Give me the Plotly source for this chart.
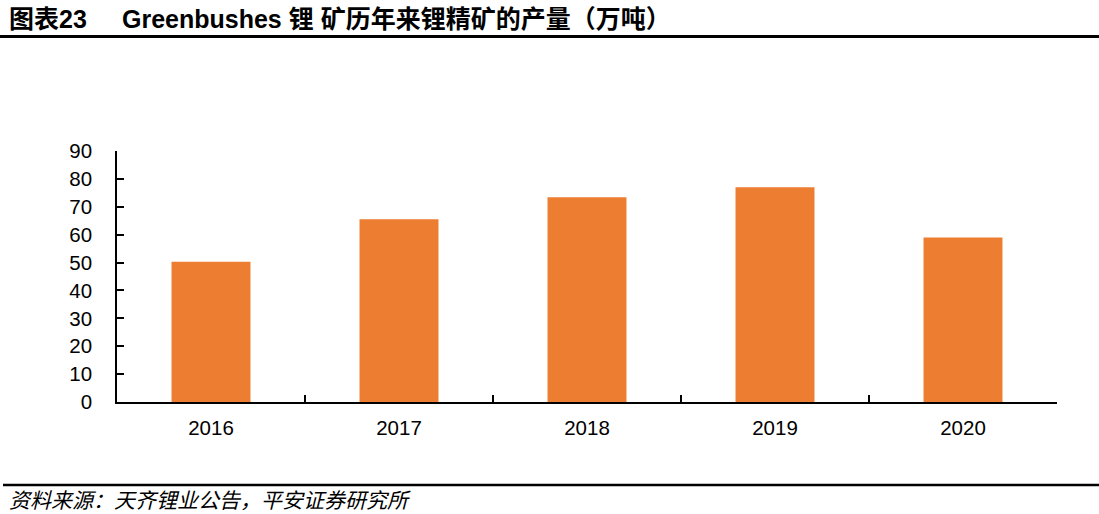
import plotly.graph_objects as go

years = ["2016", "2017", "2018", "2019", "2020"]
output = [50.3, 65.5, 73.4, 77.0, 59.0]
y_ticks = [0, 10, 20, 30, 40, 50, 60, 70, 80, 90]

title_no = "图表23"
title_text = "Greenbushes 锂 矿历年来锂精矿的产量（万吨）"
source_text = "资料来源：天齐锂业公告，平安证券研究所"

W, H = 1099, 514
L, R, T, B = 117, 1057, 151, 402
pw, ph = R - L, B - T

def px(x):
    return (x - L) / pw

def py(y):
    return (B - y) / ph

font_fam = "Liberation Sans, Arial, Noto Sans CJK SC, sans-serif"

fig = go.Figure(go.Bar(
    x=years, y=output,
    marker=dict(color="#ED7D31", line=dict(width=0)),
    hoverinfo="skip",
))

fig.update_layout(
    width=W, height=H,
    margin=dict(l=L, r=W - R, t=T, b=H - B, pad=0),
    paper_bgcolor="white", plot_bgcolor="white",
    bargap=0.58,
    showlegend=False,
    font=dict(family=font_fam, size=20, color="black"),
    xaxis=dict(
        type="category", tickson="boundaries", ticks="inside", ticklen=7,
        tickwidth=1.5, tickcolor="black",
        showline=True, linecolor="black", linewidth=1.5,
        showgrid=False, zeroline=False,
        tickfont=dict(size=20.5, color="black"),
        ticklabelstandoff=7,
    ),
    yaxis=dict(
        range=[0, 90], tickvals=y_ticks, ticks="inside", ticklen=7,
        tickwidth=1.5, tickcolor="black",
        showline=True, linecolor="black", linewidth=1.5,
        showgrid=False, zeroline=False,
        tickfont=dict(size=20.5, color="black"),
        ticklabelstandoff=19,
    ),
)

fig.add_shape(type="line", xref="paper", yref="paper",
              x0=px(0), x1=px(W), y0=py(36.5), y1=py(36.5),
              line=dict(color="black", width=3))
fig.add_shape(type="line", xref="paper", yref="paper",
              x0=px(3), x1=px(W), y0=py(485), y1=py(485),
              line=dict(color="black", width=2.5))

fig.add_annotation(text="<b>" + title_no + "</b>", xref="paper", yref="paper",
                   x=px(7), y=py(19), xanchor="left", yanchor="middle",
                   showarrow=False,
                   font=dict(family=font_fam, size=25, color="black"))
fig.add_annotation(text="<b>" + title_text + "</b>", xref="paper", yref="paper",
                   x=px(120), y=py(19), xanchor="left", yanchor="middle",
                   showarrow=False,
                   font=dict(family=font_fam, size=25, color="black"))
fig.add_annotation(text="<i>" + source_text + "</i>", xref="paper", yref="paper",
                   x=px(7), y=py(499), xanchor="left", yanchor="middle",
                   showarrow=False,
                   font=dict(family="Noto Sans CJK SC, sans-serif", size=21, color="black"))

fig.write_html("out.html", config={"displayModeBar": False},
               post_script="document.body.style.margin='0';document.body.style.overflow='hidden';")
